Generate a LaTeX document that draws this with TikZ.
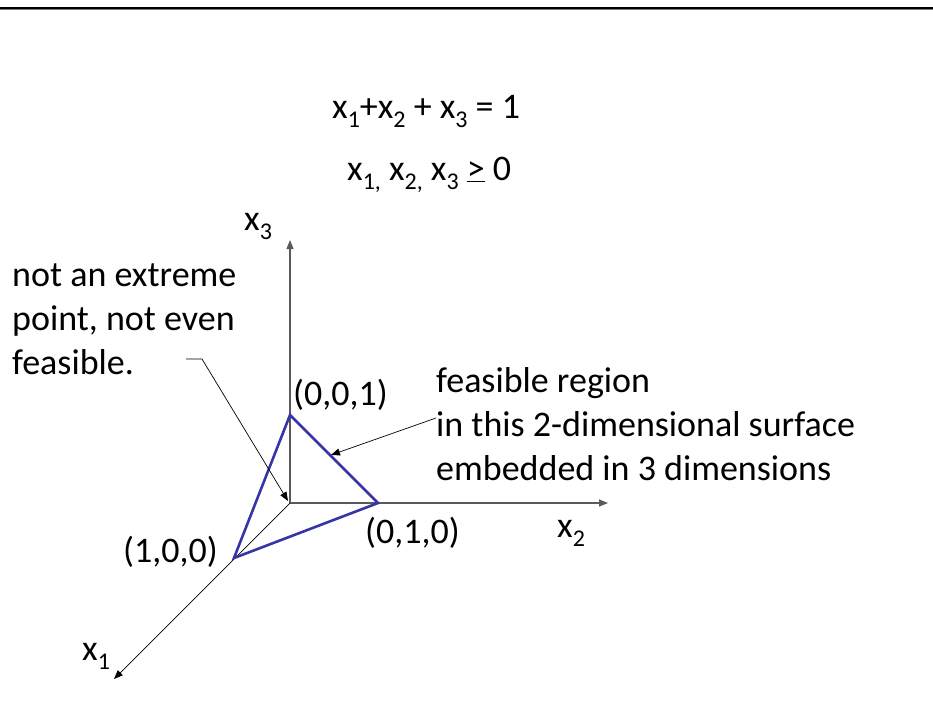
\documentclass[tikz,border=0pt]{standalone}
\usepackage{fontspec}
\setmainfont{Carlito}
\usetikzlibrary{arrows.meta,positioning}
\definecolor{axisGray}{HTML}{5A5A5A}
\definecolor{simplexBlue}{HTML}{3535A5}
\definecolor{ruleGray}{HTML}{7A7A7A}
\newcommand{\subx}[1]{\raisebox{-.26em}{\fontsize{24}{24}\selectfont #1}}

\begin{document}
\begin{tikzpicture}[
  x=1pt,y=-1pt,
  font=\fontsize{36}{44}\selectfont,
  axis/.style={draw=axisGray,line width=1.1pt,-{Triangle[length=9pt,width=7pt]}},
  simplex/.style={draw=simplexBlue,line width=2.6pt,line join=miter},
  pointer/.style={draw=black,line width=.7pt,-{Triangle[length=9pt,width=7pt]}},
  lbl/.style={anchor=base west,inner sep=0pt}
]
  \useasboundingbox (0,0) rectangle (933,721);
  \draw[line width=2.4pt] (0,7.8) -- (933,7.8);
  \draw[ruleGray,line width=.8pt] (0,9.7) -- (933,9.7);

  % constraints
  \node[lbl] (sumeq) at (332,118) {x\subx{1}+x\subx{2} + x\subx{3} = 1};
  \node[lbl] (nonneg) at (347,180) {x\subx{1,} x\subx{2,} x\subx{3} \underline{>} 0};

  % axes
  \coordinate (O) at (290,503);
  \coordinate (e3) at (290,240);
  \coordinate (e2) at (608,503);
  \coordinate (e1) at (114,679);
  \draw[axis] (O) -- (e3);
  \draw[axis] (O) -- (e2);
  \draw[pointer] (O) -- (e1);
  \node[lbl] (lx3) at (244,230) {x\subx{3}};
  \node[lbl] (lx2) at (557,537) {x\subx{2}};
  \node[lbl] (lx1) at (82,660) {x\subx{1}};

  % simplex
  \coordinate (v3) at (290,415);
  \coordinate (v2) at (378,503);
  \coordinate (v1) at (234,558);
  \draw[simplex] (v1) -- (v3) -- (v2) -- cycle;
  \node[lbl] (p001) at (293,405) {(0,0,1)};
  \node[lbl] (p010) at (365,543) {(0,1,0)};
  \node[lbl] (p100) at (123,562) {(1,0,0)};

  % notes
  \node[lbl,align=left] (notext) at (12,374) {not an extreme\\point, not even\\feasible.};
  \coordinate (ns) at (186,359);
  \coordinate (nk) at (202,359);
  \coordinate (nt) at (288,501);
  \draw[pointer] (ns) -- (nk) -- (nt);

  \node[lbl,align=left] (region) at (436,480) {feasible region\\in this 2-dimensional surface\\embedded in 3 dimensions};
  \coordinate (rs) at (436,418);
  \coordinate (rt) at (331,455);
  \draw[pointer] (rs) -- (rt);
\end{tikzpicture}
\end{document}
